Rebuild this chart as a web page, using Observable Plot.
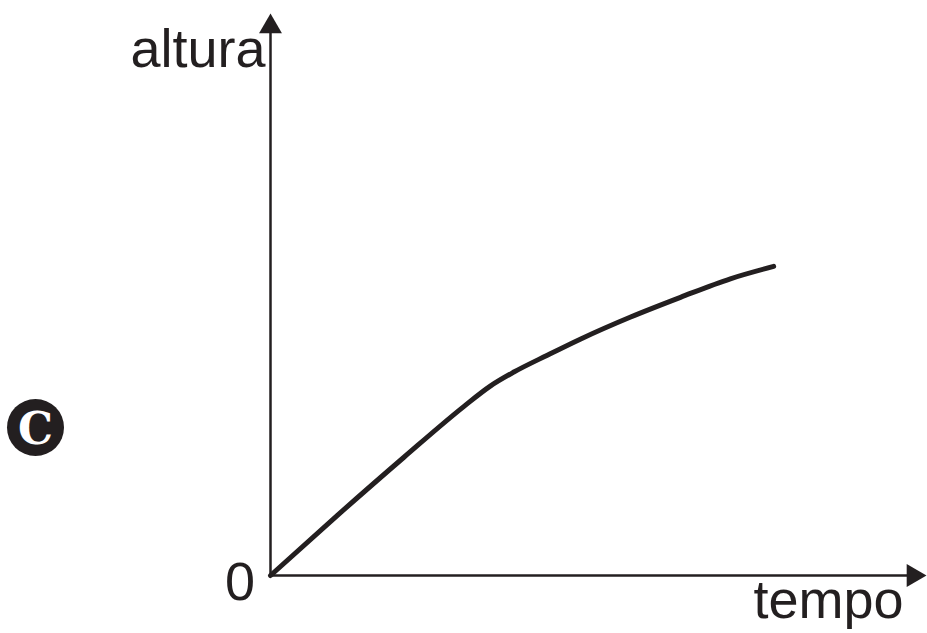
<!DOCTYPE html>
<html>
<head>
<meta charset="utf-8">
<script src="https://cdn.jsdelivr.net/npm/d3@7"></script>
<script src="https://cdn.jsdelivr.net/npm/@observablehq/plot@0.6"></script>
<style>
  html, body { margin: 0; padding: 0; background: #fff; }
  #wrap { position: relative; width: 927px; height: 633px; }
  #badge {
    position: absolute; left: 7px; top: 399px; width: 57px; height: 57px;
    border-radius: 50%; background: #231f20; color: #fff;
    font: bold 44px "DejaVu Serif", serif; text-align: center; line-height: 59px;
  }
</style>
</head>
<body>
<div id="wrap"><div id="badge">C</div></div>
<script>
// Curve (arbitrary units, axes 0..100)
const tempo  = [0, 10.2, 20.3, 29.5, 33.5, 37.1, 42.2, 47.3, 54.9, 62.5, 70.1, 76.7];
const altura = [0, 10.7, 21.0, 30.1, 33.7, 36.2, 39.2, 42.1, 46.0, 49.5, 52.8, 55.0];
const axisMax = 100;
const labels = { y: "altura", x: "tempo", origin: "0" };

const data = tempo.map((t, i) => ({ t, h: altura[i] }));
const ink = "#231f20";
const font = "Liberation Sans, Arial, sans-serif";

const chart = Plot.plot({
  width: 927,
  height: 633,
  marginLeft: 270,
  marginRight: 1,
  marginTop: 13,
  marginBottom: 58,
  x: { domain: [0, axisMax], axis: null },
  y: { domain: [0, axisMax], axis: null },
  style: { background: "transparent", overflow: "visible", display: "block" },
  marks: [
    Plot.ruleY([0], { x1: 0, x2: axisMax * 0.98, stroke: ink, strokeWidth: 2.5 }),
    Plot.ruleX([0], { y1: 0, y2: axisMax * 0.97, stroke: ink, strokeWidth: 2.5 }),
    Plot.dot([[0, axisMax]], { x: d => d[0], y: d => d[1], symbol: "triangle", r: 8.5, fill: ink, stroke: null, dy: 13.2 }),
    Plot.dot([[axisMax, 0]], { x: d => d[0], y: d => d[1], symbol: "triangle", r: 8.5, fill: ink, stroke: null, rotate: 90, dx: -13.2 }),
    Plot.line(data, { x: "t", y: "h", curve: "monotone-x", stroke: ink, strokeWidth: 5, strokeLinecap: "round", strokeLinejoin: "round" }),
    Plot.text([labels.y], { x: 0, y: axisMax, text: d => d, textAnchor: "end", dx: -5, dy: 36.7, fontSize: 54, fontFamily: font, fill: ink }),
    Plot.text([labels.x], { x: axisMax, y: 0, text: d => d, textAnchor: "end", dx: -23, dy: 25.7, fontSize: 54, fontFamily: font, fill: ink }),
    Plot.text([labels.origin], { x: 0, y: 0, text: d => d, textAnchor: "end", dx: -15.5, dy: 7.7, fontSize: 54, fontFamily: font, fill: ink })
  ]
});
document.getElementById("wrap").prepend(chart);
</script>
</body>
</html>
